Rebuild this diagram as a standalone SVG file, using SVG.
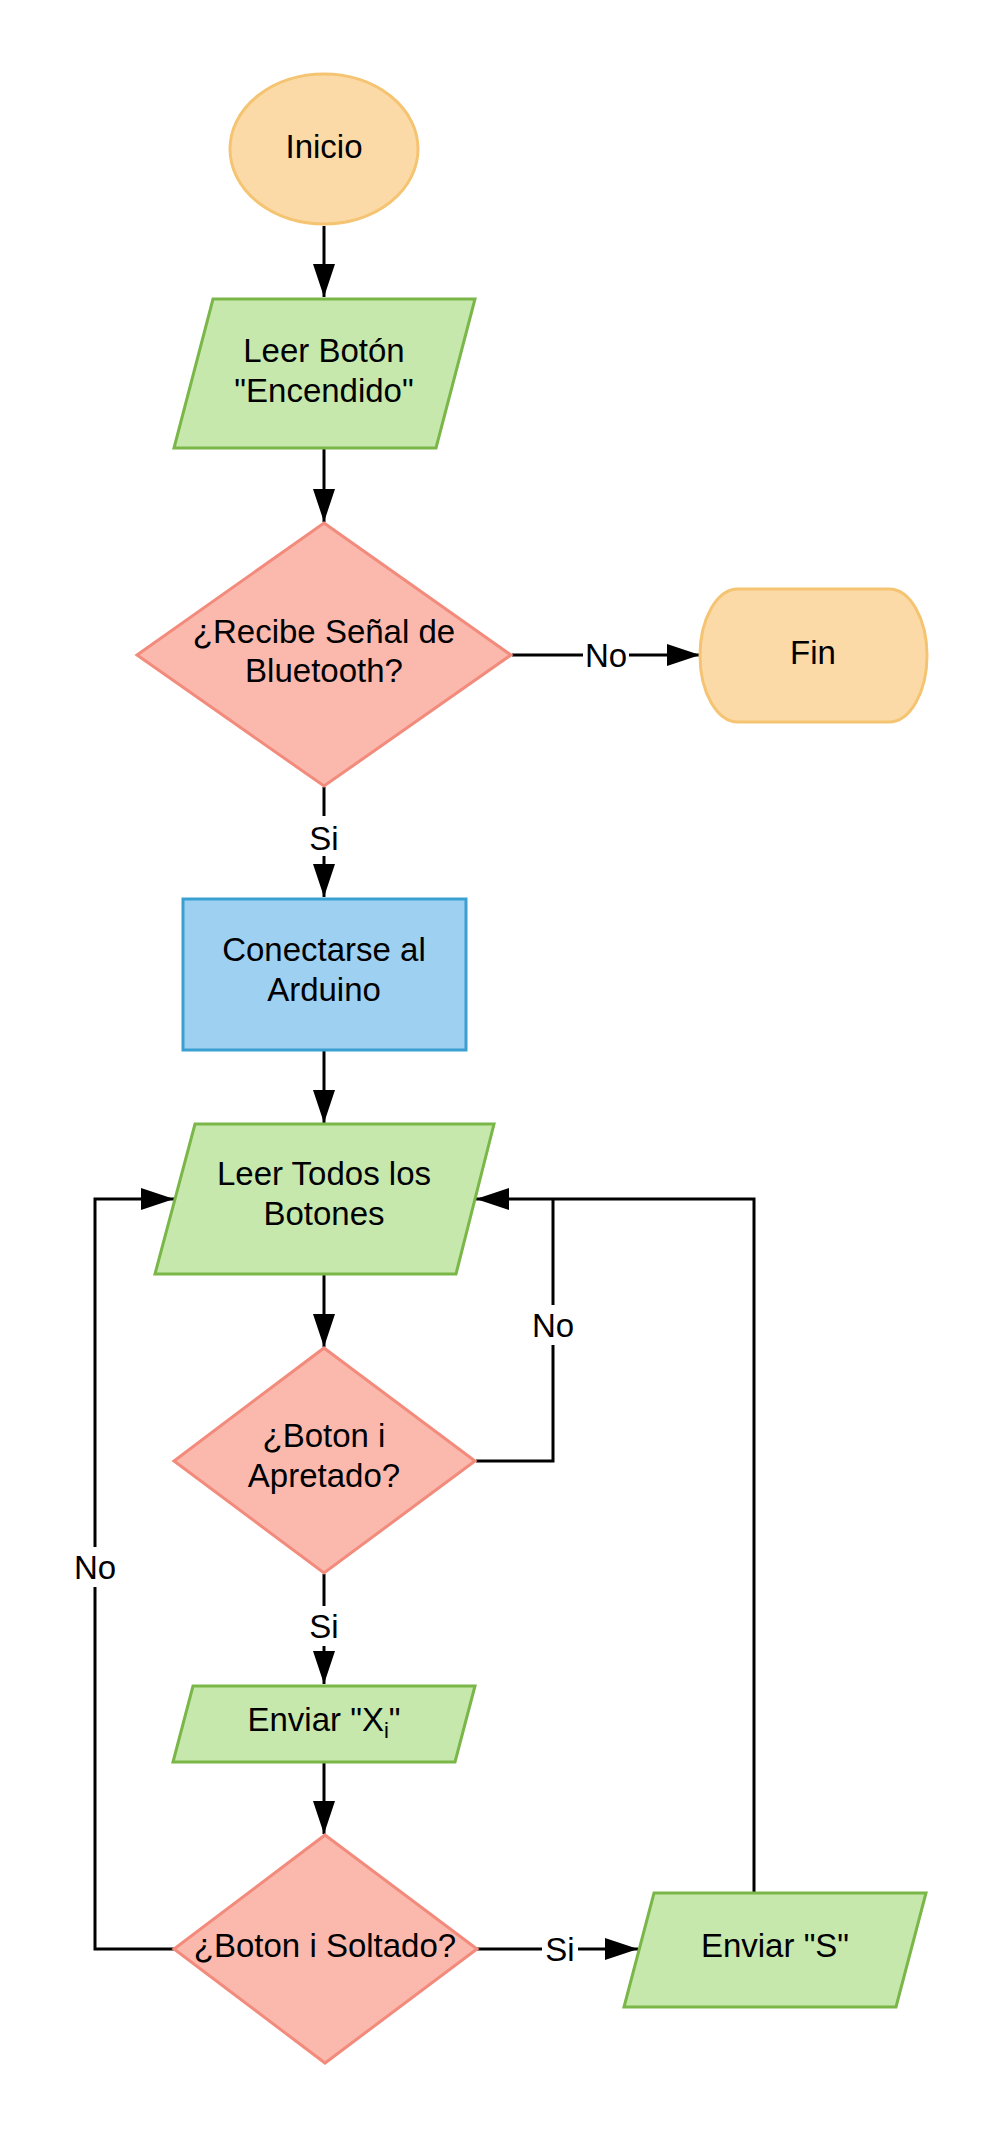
<svg xmlns="http://www.w3.org/2000/svg" width="999" height="2138" viewBox="0 0 999 2138">
<style>
text{font-family:"Liberation Sans",Arial,sans-serif;font-size:33px;fill:#000;text-anchor:middle}
.orange{fill:#fcdaa7;stroke:#f5c472;stroke-width:3}
.green{fill:#c6e8ad;stroke:#7ab648;stroke-width:3}
.red{fill:#fbb8ad;stroke:#f28b7c;stroke-width:3}
.blue{fill:#9dd0f1;stroke:#3a9fd1;stroke-width:3}
.edge{fill:none;stroke:#000;stroke-width:3;marker-end:url(#arr)}
.line{fill:none;stroke:#000;stroke-width:3}
.lbl{fill:#fff;stroke:none}
</style>
<defs>
<marker id="arr" markerUnits="userSpaceOnUse" markerWidth="34" markerHeight="24" refX="33" refY="11" orient="auto">
<path d="M0,0 L33,11 L0,22 Z" fill="#000"/>
</marker>
</defs>
<rect width="999" height="2138" fill="#fff"/>
<g id="connectors">
<path class="edge" d="M324,226 L324,297"/>
<path class="edge" d="M324,449 L324,522"/>
<path class="edge" d="M512,655 L700,655"/>
<path class="edge" d="M324,787 L324,897"/>
<path class="edge" d="M324,1051 L324,1123"/>
<path class="edge" d="M324,1275 L324,1347"/>
<path class="line" d="M476,1461 L553,1461 L553,1199"/>
<path class="edge" d="M754,1893 L754,1199 L476,1199"/>
<path class="edge" d="M324,1574 L324,1684"/>
<path class="edge" d="M324,1763 L324,1834"/>
<path class="edge" d="M174,1949 L95,1949 L95,1199 L174,1199"/>
<path class="edge" d="M477,1949 L638,1949"/>
<rect class="lbl" x="583" y="636" width="46" height="36"/>
<text x="606" y="667">No</text>
<rect class="lbl" x="306" y="816" width="36" height="40"/>
<text x="324" y="850">Si</text>
<rect class="lbl" x="529" y="1305" width="48" height="40"/>
<text x="553" y="1337">No</text>
<rect class="lbl" x="71" y="1547" width="48" height="40"/>
<text x="95" y="1579">No</text>
<rect class="lbl" x="306" y="1606" width="36" height="40"/>
<text x="324" y="1638">Si</text>
<rect class="lbl" x="542" y="1930" width="36" height="36"/>
<text x="560" y="1961">Si</text>
</g>
<g id="inicio">
<ellipse class="orange" cx="324" cy="149" rx="94" ry="75"/>
<text x="324" y="158">Inicio</text>
</g>
<g id="leer-boton">
<polygon class="green" points="213,299 475,299 436,448 174,448"/>
<text x="324" y="362">Leer Botón</text>
<text x="324" y="402">"Encendido"</text>
</g>
<g id="recibe-senal">
<polygon class="red" points="324,523 511,655 324,786 137,655"/>
<text x="324" y="643">¿Recibe Señal de</text>
<text x="324" y="682">Bluetooth?</text>
</g>
<g id="fin">
<path class="orange" d="M738,589 L889,589 A38,66.5 0 0 1 889,722 L738,722 A38,66.5 0 0 1 738,589 Z"/>
<text x="813" y="664">Fin</text>
</g>
<g id="conectarse">
<rect class="blue" x="183" y="899" width="283" height="151"/>
<text x="324" y="961">Conectarse al</text>
<text x="324" y="1001">Arduino</text>
</g>
<g id="leer-todos">
<polygon class="green" points="195,1124 494,1124 456,1274 155,1274"/>
<text x="324" y="1185">Leer Todos los</text>
<text x="324" y="1225">Botones</text>
</g>
<g id="boton-apretado">
<polygon class="red" points="324,1348 475,1461 324,1573 174,1461"/>
<text x="324" y="1447">¿Boton i</text>
<text x="324" y="1487">Apretado?</text>
</g>
<g id="enviar-x">
<polygon class="green" points="193,1686 475,1686 455,1762 173,1762"/>
<text x="324" y="1731">Enviar "X<tspan font-size="22" dy="7">i</tspan><tspan dy="-7">"</tspan></text>
</g>
<g id="boton-soltado">
<polygon class="red" points="325,1835 477,1949 325,2063 174,1949"/>
<text x="325" y="1957">¿Boton i Soltado?</text>
</g>
<g id="enviar-s">
<polygon class="green" points="654,1893 926,1893 896,2007 624,2007"/>
<text x="775" y="1957">Enviar "S"</text>
</g>
</svg>
